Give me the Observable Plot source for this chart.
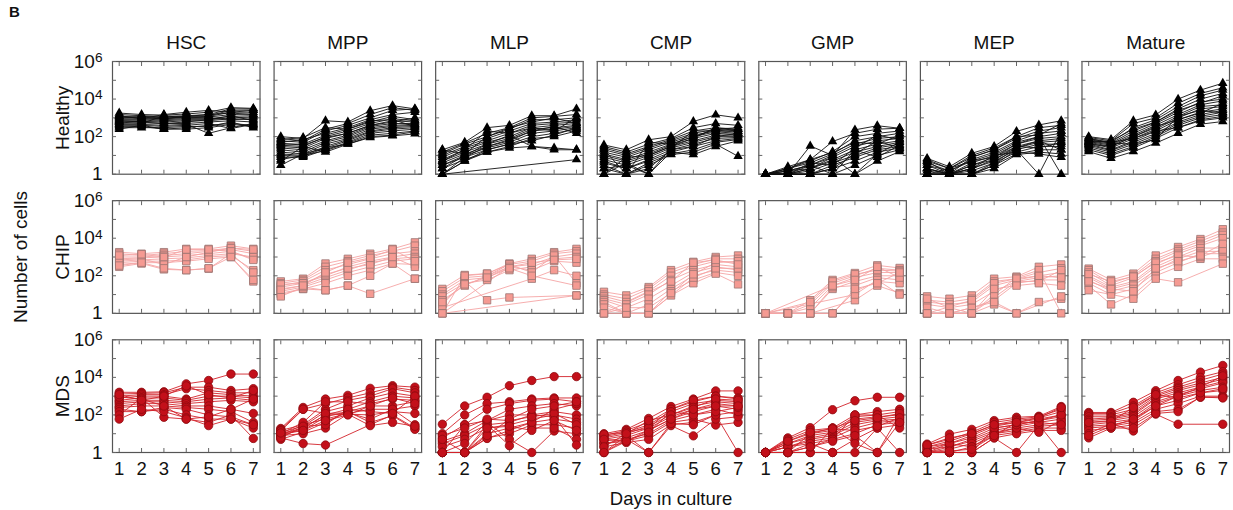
<!DOCTYPE html>
<html>
<head>
<meta charset="utf-8">
<script src="https://cdn.jsdelivr.net/npm/d3@7"></script>
<script src="https://cdn.jsdelivr.net/npm/@observablehq/plot@0.6"></script>
<style>
  html, body { margin: 0; padding: 0; background: #fff; }
  #wrap { position: relative; width: 1233px; height: 510px; font-family: 'Liberation Sans', Arial, sans-serif; }
  #panelLetter { position: absolute; left: 9px; top: 3px; font-weight: bold; font-size: 15px; color: #111; }
</style>
</head>
<body>
<div id="wrap"><div id="panelLetter">B</div></div>
<script>
// ---------- categories & ticks ----------
const days = [1, 2, 3, 4, 5, 6, 7];
const cellTypes = ["HSC", "MPP", "MLP", "CMP", "GMP", "MEP", "Mature"];
const groups = ["Healthy", "CHIP", "MDS"];
const decadeTicks = [1, 10, 100, 1000, 10000, 100000, 1000000];
const yLabelTicks = [1, 100, 10000, 1000000];
const xAxisTitle = "Days in culture";
const yAxisTitle = "Number of cells";

// ---------- Healthy (cells per sample, days 1..7) ----------
const healthyHSC = [
  [1800,1500,1400,1600,2000,3500,3200],[1500,1300,1200,1300,1500,3000,3000],
  [1200,1200,1100,1200,1300,2500,2600],[1000,1100,1000,1100,1200,2000,2000],
  [900,900,900,1000,1100,1500,1600],[800,800,800,900,900,1200,1300],
  [700,700,700,800,800,1000,1100],[600,650,600,700,700,900,800],
  [500,550,500,500,600,700,600],[450,450,400,450,150,300,500],
  [400,400,250,300,400,500,400],[350,350,250,250,300,450,350],
  [300,300,300,350,350,600,300],[1100,1000,900,1200,1500,1800,1500],
  [700,600,500,600,800,1300,700],[1300,900,1500,2000,2500,2000,2500],
  [250,400,350,400,500,270,450],[600,500,1300,1000,1000,800,900]
];
const healthyMPP = [
  [100,80,700,600,2400,4500,3000],[80,60,250,500,1500,3500,2500],
  [60,50,200,400,1000,2500,3000],[50,70,150,300,800,1500,2000],
  [40,40,120,250,600,1200,800],[35,30,100,200,500,900,700],
  [30,25,80,150,400,700,600],[25,20,60,120,350,500,500],
  [20,15,50,100,300,400,450],[15,12,40,80,250,350,400],
  [12,10,30,70,200,300,350],[10,9,25,60,180,250,300],
  [8,8,20,50,150,200,250],[6,10,18,45,120,150,200],
  [5,30,15,40,100,120,180],[3,12,25,40,90,110,140],
  [70,90,300,250,700,800,350],[45,35,90,150,400,600,1000]
];
const healthyMLP = [
  [20,50,300,400,1300,1300,3000],[15,45,150,300,1000,1200,1500],
  [12,40,100,250,800,800,1000],[10,30,80,200,500,600,800],
  [8,25,60,150,400,500,600],[6,20,50,100,300,400,500],
  [5,15,40,80,250,300,400],[4,12,30,60,200,250,350],
  [3,10,25,50,150,200,300],[3,8,20,40,100,150,250],
  [2,6,15,30,80,100,200],[1,5,15,25,30,20,20],
  [1,null,null,null,null,null,6],[2,10,40,120,30,25,20],
  [1,8,30,70,200,350,150],[20,12,100,300,600,1000,500],
  [5,20,200,150,300,200,1000],[1,5,20,40,60,120,300]
];
const healthyCMP = [
  [36,20,68,100,640,1450,1000],[30,15,40,80,300,500,400],
  [25,12,30,70,200,300,250],[20,10,25,60,150,250,200],
  [15,8,20,50,120,200,180],[12,6,15,40,100,180,150],
  [10,5,12,35,80,150,130],[8,4,10,30,60,120,120],
  [6,3,8,25,50,100,100],[5,2,6,20,40,80,90],
  [4,2,5,15,30,60,80],[3,1,4,12,20,50,70],
  [2,1,3,11,15,40,9],[1,4,1,15,11,30,60],
  [1,1,2,20,30,100,150],[2,3,1,25,200,200,250],
  [1,8,10,30,80,300,200],[20,1,50,40,100,250,300]
];
const healthyGMP = [
  [1,1,32,10,230,380,280],[1,2.5,6,55,150,250,280],
  [1,2,5,16,100,150,200],[1,2,4,12,60,100,150],
  [1,1.5,3,10,40,80,100],[1,1.5,3,8,30,60,80],
  [1,1,2,6,20,40,60],[1,1,2,5,15,30,50],
  [1,1,1.5,4,10,25,40],[1,1,1,3,8,20,30],
  [1,1,1,2,5,15,25],[1,1,1,1,3,10,20],
  [1,1,1,1,1,5,16],[1,2,6,14,50,40,120],
  [1,1,3,1,20,8,35],[1,1,1,2,12,60,25],
  [1,1.5,2,8,1,12,50],[1,1,4,3,25,120,70]
];
const healthyMEP = [
  [7,2.5,13,30,190,420,700],[6,2,10,25,100,300,400],
  [5,2,8,20,80,200,300],[4,1.5,6,15,60,150,200],
  [3,1.5,5,12,50,100,150],[3,1,4,10,40,80,100],
  [2,1,3,8,30,60,80],[2,1,2,6,25,50,60],
  [1.5,1,2,5,20,40,40],[1,1,1.5,4,15,30,30],
  [1,1,1,3,12,20,20],[1,1,1,2,11,15,12],
  [1,1,1,3,20,1,200],[1,2,5,8,40,100,1],
  [1,1,2,10,15,12,8],[5,1,3,6,30,25,50],
  [1,1,1,4,25,60,20],[2,1,8,20,100,120,500]
];
const healthyMature = [
  [100,70,700,1450,10000,30000,70000],[90,60,500,1000,6000,20000,40000],
  [80,50,300,800,4000,15000,30000],[70,45,200,600,3000,10000,20000],
  [60,40,150,500,2000,7000,10000],[55,35,120,400,1500,5000,8000],
  [50,30,100,300,1200,4000,5000],[45,25,80,250,1000,3000,4000],
  [40,20,60,200,800,2000,3000],[35,18,50,150,600,1500,2500],
  [30,15,40,120,500,1200,2000],[25,12,30,100,400,1000,1500],
  [20,10,25,80,300,800,1200],[16,7,16,45,150,460,640],
  [60,50,80,200,300,700,1000],[40,30,100,350,800,1800,6000],
  [80,45,40,70,1200,2500,1800],[50,60,250,600,2500,6000,15000]
];

// ---------- CHIP ----------
const chipHSC = [
  [1800,1500,1800,2700,2700,4000,2700],[1500,1200,1500,2000,2200,3000,2000],
  [1000,1000,1200,1500,2000,2500,1500],[800,900,1000,1200,1500,2000,800],
  [600,700,800,900,1200,1500,1000],[500,600,600,700,1000,1200,200],
  [400,500,500,600,800,1000,50],[300,450,220,200,240,1500,150],
  [700,800,400,1000,1800,3000,2500],[1200,1400,1000,2500,2500,2000,700],
  [350,500,250,200,250,1000,60]
];
const chipMPP = [
  [50,70,450,800,1500,2700,6000],[40,60,300,600,1200,2000,4000],
  [30,50,200,400,800,1500,2000],[25,40,100,300,600,1000,1500],
  [20,30,80,200,500,800,1000],[15,25,60,150,300,600,800],
  [12,20,40,100,200,450,400],[10,20,17,30,11,null,70],
  [8,25,17,30,100,450,70],[35,40,120,250,400,1000,300],
  [18,30,150,500,900,2500,600]
];
const chipMLP = [
  [20,110,130,450,800,1800,2700],[15,80,100,400,600,1500,2000],
  [10,60,80,300,400,1000,1500],[8,40,60,200,300,800,1000],
  [5,30,100,300,200,600,500],[3,50,5,7,null,null,9],
  [2,null,null,null,70,200,100],[1,100,130,400,150,1200,40],
  [1,null,null,300,500,700,800],[4,35,80,250,100,null,30],
  [1,null,null,null,null,null,9]
];
const chipCMP = [
  [14,9,25,200,550,1000,1200],[10,6,20,150,400,800,800],
  [8,4,15,100,300,600,500],[6,3,10,60,200,400,300],
  [5,2,6,30,150,300,200],[4,1,3,20,100,200,150],
  [3,1,1,15,60,150,100],[2,1,1,9,40,130,35],
  [1,1,1,null,80,250,250],[1,2,2,12,120,500,600],
  [1,null,null,50,500,700,400]
];
const chipGMP = [
  [1,1,5,60,140,360,260],[1,1,3,40,100,250,200],
  [1,1,2,30,80,150,150],[1,1,1,20,50,100,100],
  [1,1,1,25,30,80,60],[1,1,1,1,15,50,40],
  [1,1,1,null,5,30,12],[1,null,null,null,10,60,10],
  [1,null,4,50,120,200,180],[1,null,null,30,60,300,80],
  [1,null,null,1,20,40,150]
];
const chipMEP = [
  [8,6,9,70,90,300,400],[5,4,6,50,70,150,250],
  [4,3,4,30,60,100,150],[3,2,3,15,50,80,100],
  [2,1,2,5,40,60,60],[1,1,1,3,1,4,6],
  [1,1,1,10,80,200,1],[1,1,1,null,50,50,200],
  [1,null,5,40,70,100,80],[6,2,1,20,30,40,30],
  [1,1,null,4,1,null,8]
];
const chipMature = [
  [240,60,130,1200,3400,9000,30000],[200,40,100,800,2500,7000,20000],
  [150,30,80,600,2000,5000,15000],[100,25,50,400,1500,4000,10000],
  [80,20,40,300,1000,3000,3000],[60,15,30,200,800,2000,2000],
  [40,10,20,150,500,1500,1500],[30,3,10,100,300,800,800],
  [17,null,6,70,45,null,440],[120,50,90,500,1200,1000,2500],
  [50,20,15,250,600,1200,5000]
];

// ---------- MDS ----------
const mdsHSC = [
  [1600,1600,1700,4500,6800,15000,15000],[1300,1400,1500,3000,3000,2000,2500],
  [1000,1200,1200,2500,2000,1500,1500],[800,1000,1000,700,1500,1200,1000],
  [600,800,800,600,1000,1000,800],[500,600,600,500,700,800,600],
  [400,500,500,400,500,600,500],[300,400,400,300,300,200,120],
  [250,300,300,250,200,150,40],[200,150,250,200,100,80,30],
  [150,150,200,100,60,60,20],[100,800,75,60,40,100,5.6],
  [60,200,150,70,27,60,30],[900,700,300,60,80,200,700],
  [1200,600,1000,3500,1200,800,2000]
];
const mdsMPP = [
  [19,250,700,1100,2600,3600,3000],[17,200,400,800,1500,3000,2000],
  [15,30,200,600,1000,2500,1500],[12,25,150,300,800,1500,1000],
  [10,20,100,200,500,1000,800],[9,15,80,150,300,300,500],
  [8,30,60,120,200,200,300],[7,20,100,110,100,150,120],
  [6,3,2.5,null,30,100,20],[5,12,40,150,40,90,17],
  [14,200,120,130,60,200,30],[10,40,500,500,400,700,600],
  [8,10,20,110,27,40,25],[6,25,30,200,150,120,1000],
  [11,15,50,100,300,800,400]
];
const mdsMLP = [
  [32,300,870,3600,6800,11000,11000],[10,100,400,500,700,800,800],
  [6,30,200,400,600,700,500],[4,10,50,200,300,400,300],
  [3,8,30,40,100,150,100],[2,5,20,30,60,100,60],
  [1,1,10,20,40,60,40],[1,1,6,10,30,30,20],
  [1,3,40,5,1,14,10],[1,1,30,2.3,20,20,5],
  [1,1,5.6,15,40,200,400],[1,30,50,100,100,80,2.5],
  [8,20,60,50,80,120,30],[1,1,8,60,200,300,500],
  [5,1,20,25,15,50,15]
];
const mdsCMP = [
  [10,17,65,280,700,1900,1900],[8,15,40,200,500,1000,800],
  [7,12,30,150,400,600,500],[6,10,25,100,300,500,400],
  [5,8,20,80,200,400,300],[4,6,15,60,150,300,200],
  [3,5,10,50,100,200,100],[3,4,8,40,60,29,40],
  [2,3.4,5,30,40,100,1],[1,5,1,27,7.7,60,80],
  [1,8,1,35,30,100,150],[9,12,20,200,600,1000,700],
  [5,4,12,150,100,150,250],[2,10,50,100,250,700,600],
  [1,null,null,60,200,300,300]
];
const mdsGMP = [
  [1,6,21,190,570,870,870],[1,5,15,20,100,150,200],
  [1,4,10,15,80,100,150],[1,3,8,12,60,80,100],
  [1,3,6,10,40,60,80],[1,2,5,8,30,50,60],
  [1,2,4,6,20,40,50],[1,1,3,5,10,30,40],
  [1,1,1,1,5,20,30],[1,1,1,20,3,1,100],
  [1,2,3,1,1,20,1],[1,1,2,5,100,100,20],
  [1,1,10,20,50,70,120],[1,4,12,18,15,25,70],
  [1,1,2,4,8,1,40]
];
const mdsMEP = [
  [2.8,9.5,17,50,75,85,280],[2.5,5,12,40,60,80,200],
  [2,4,10,30,50,70,150],[2,3,8,25,40,60,100],
  [1.5,3,6,20,30,50,80],[1.5,2,5,15,25,40,60],
  [1,2,4,12,20,30,40],[1,1.5,3,10,15,25,30],
  [1,1,2,8,12,20,20],[1,1,1,6,10,15,15],
  [1,1,1,6,1,30,1],[1,3,2,10,20,12,50],
  [1,1,1,20,30,50,100],[2.5,6,10,30,40,40,30],
  [1,1.2,1.5,8,40,70,250]
];
const mdsMature = [
  [135,135,470,1950,6800,19000,43000],[120,120,300,1500,4000,10000,20000],
  [100,100,200,1200,3000,7000,15000],[80,80,150,1000,2500,5000,10000],
  [60,70,120,800,2000,4000,8000],[50,60,100,700,1500,3000,6000],
  [40,50,80,500,1200,2500,5000],[30,40,60,400,1000,2000,3000],
  [25,30,50,300,600,1500,2000],[20,25,40,200,400,1000,1000],
  [15,20,30,150,200,870,900],[10,35,14,110,32,null,32],
  [6,20,20,120,150,900,800],[40,45,250,1200,800,1500,2500],
  [8,25,60,300,1000,3000,12000]
];

// ---------- build long table ----------
const panelSeries = {
  Healthy: [healthyHSC, healthyMPP, healthyMLP, healthyCMP, healthyGMP, healthyMEP, healthyMature],
  CHIP: [chipHSC, chipMPP, chipMLP, chipCMP, chipGMP, chipMEP, chipMature],
  MDS: [mdsHSC, mdsMPP, mdsMLP, mdsCMP, mdsGMP, mdsMEP, mdsMature]
};
const rows = [];
for (const g of groups) {
  panelSeries[g].forEach((seriesList, ti) => {
    seriesList.forEach((vals, si) => {
      vals.forEach((v, di) => {
        if (v != null) rows.push({group: g, type: cellTypes[ti], id: `${g}-${cellTypes[ti]}-${si}`, day: days[di], value: v});
      });
    });
  });
}
const byGroup = g => rows.filter(d => d.group === g);

const fmtPow = d => d === 1 ? "1" : "10^" + Math.round(Math.log10(d));

const tickStroke = "#666";
const common = {x: "day", y: "value", fx: "type", fy: "group"};

const chart = Plot.plot({
  width: 1233,
  height: 510,
  marginLeft: 112,
  marginRight: 4,
  marginTop: 61,
  marginBottom: 58,
  style: {fontFamily: "'Liberation Sans', Arial, sans-serif", fontSize: "17px", color: "#111", background: "#fff", overflow: "visible"},
  x: {domain: [0.7, 7.3]},
  y: {type: "log", domain: [1, 1e6]},
  fx: {domain: cellTypes, paddingInner: 0.087, paddingOuter: 0, round: false},
  fy: {domain: groups, paddingInner: 0.19, paddingOuter: 0, round: false},
  marks: [
    Plot.frame({stroke: "#555", strokeWidth: 1.2}),
    Plot.axisY({anchor: "left", ticks: decadeTicks, tickSize: -4, fill: "none", label: null, facetAnchor: null, stroke: tickStroke}),
    Plot.axisY({anchor: "right", ticks: decadeTicks, tickSize: -4, fill: "none", label: null, facetAnchor: null, stroke: tickStroke}),
    Plot.axisX({anchor: "top", ticks: days, tickSize: -4, fill: "none", label: null, facetAnchor: null, stroke: tickStroke}),
    Plot.axisX({anchor: "bottom", ticks: days, tickSize: -4, fill: "none", label: null, facetAnchor: null, stroke: tickStroke}),
    Plot.axisY({anchor: "left", ticks: yLabelTicks, tickSize: 0, tickPadding: 10, tickFormat: fmtPow, label: null, fontSize: 19}),
    Plot.axisX({anchor: "bottom", ticks: days, tickSize: 0, tickPadding: 9, tickFormat: d => String(d), label: xAxisTitle, labelAnchor: "center", labelOffset: 52, labelArrow: "none", fontSize: 18.5}),
    Plot.axisFx({anchor: "top", tickSize: 0, tickPadding: 13, label: null, fontSize: 19}),
    Plot.axisFy({anchor: "left", tickSize: 0, tickRotate: -90, tickPadding: 44, label: yAxisTitle, labelAnchor: "center", labelOffset: 99, labelArrow: "none", fontSize: 19}),
    Plot.line(byGroup("Healthy"), {...common, z: "id", stroke: "#111", strokeWidth: 0.9}),
    Plot.line(byGroup("CHIP"), {...common, z: "id", stroke: "#f5a5a5", strokeWidth: 0.9}),
    Plot.line(byGroup("MDS"), {...common, z: "id", stroke: "#d3222a", strokeWidth: 0.9}),
    Plot.dot(byGroup("Healthy"), {...common, symbol: "triangle", r: 3.5, fill: "#000", stroke: "none"}),
    Plot.dot(byGroup("CHIP"), {...common, symbol: "square", r: 4.2, fill: "#f59a92", stroke: "#9a7572", strokeWidth: 0.8}),
    Plot.dot(byGroup("MDS"), {...common, symbol: "circle", r: 4.2, fill: "#c3101a", stroke: "#8e0a0f", strokeWidth: 0.8})
  ]
});

// render "10^n" tick labels with a real superscript
const SVGNS = "http://www.w3.org/2000/svg";
chart.querySelectorAll('g[aria-label="y-axis tick label"] text').forEach(t => {
  const s = t.textContent;
  const m = /^10\^(\d+)$/.exec(s);
  if (!m) return;
  t.textContent = "10";
  const ts = document.createElementNS(SVGNS, "tspan");
  ts.setAttribute("dy", "-0.42em");
  ts.setAttribute("font-size", "0.72em");
  ts.textContent = m[1];
  t.appendChild(ts);
});

document.getElementById("wrap").appendChild(chart);
</script>
</body>
</html>
